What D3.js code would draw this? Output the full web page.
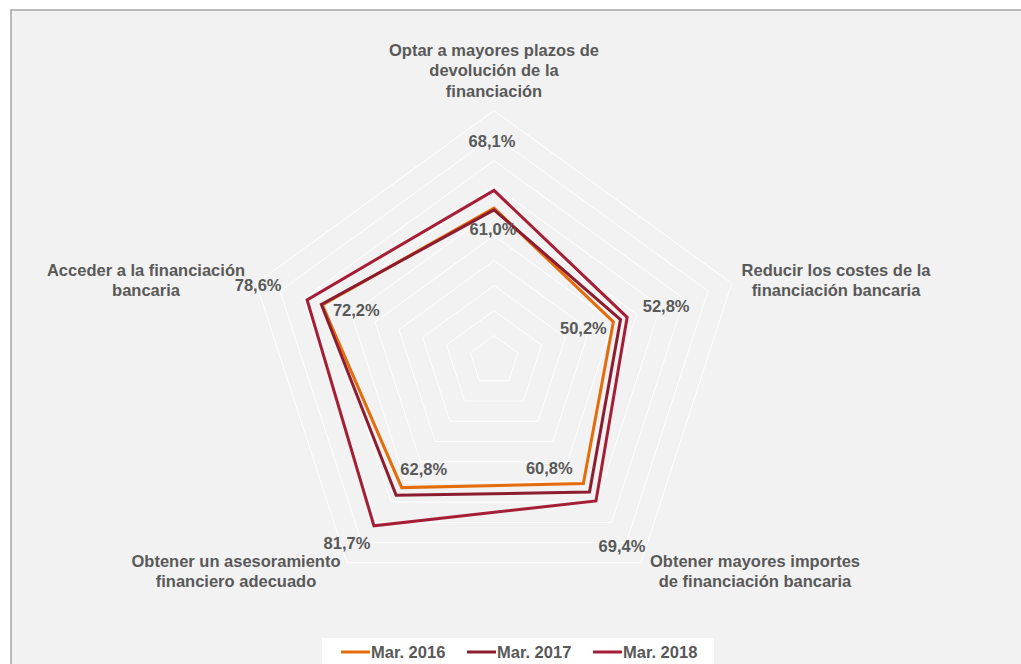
<!DOCTYPE html>
<html>
<head>
<meta charset="utf-8">
<script src="https://cdn.jsdelivr.net/npm/d3@7"></script>
<style>
  html, body { margin: 0; padding: 0; background: #fff; }
  svg { display: block; font-family: "Liberation Sans", Arial, sans-serif; }
</style>
</head>
<body>
<script>
// axes, clockwise from the top
const categories = [
  ["Optar a mayores plazos de", "devolución de la", "financiación"],
  ["Reducir los costes de la", "financiación bancaria"],
  ["Obtener mayores importes", "de financiación bancaria"],
  ["Obtener un asesoramiento", "financiero adecuado"],
  ["Acceder a la financiación", "bancaria"]
];
const seriesNames = ["Mar. 2016", "Mar. 2017", "Mar. 2018"];
const values2016 = [61.0, 50.2, 60.8, 62.8, 72.2];
const values2017 = [60.3, 53.2, 65.0, 66.6, 72.6];
const values2018 = [68.1, 56.0, 69.4, 81.7, 78.6];
const ringTicks = [10, 20, 30, 40, 50, 60, 70, 80, 90, 100];
// data labels: [series index, axis index, text]
const dataLabels = [
  [2, 0, "68,1%"], [0, 0, "61,0%"],
  [2, 1, "52,8%"], [0, 1, "50,2%"],
  [2, 2, "69,4%"], [0, 2, "60,8%"],
  [2, 3, "81,7%"], [0, 3, "62,8%"],
  [2, 4, "78,6%"], [0, 4, "72,2%"]
];

const series = [values2016, values2017, values2018];
const colors = ["#e46c0a", "#8c1c2f", "#a61e36"];
const textColor = "#595959";
const fontSize = 16.5;

const width = 1021, height = 664;
const cx = 494, cy = 360.6, R = 250;

// label offsets from their point, px (same order as dataLabels)
const labelOffsets = [
  [-2, -49], [-1, 21],
  [39, -11], [-30, 6],
  [26, 45], [-34, -15],
  [-27, 17], [22, -18],
  [-49, -15], [34, 5]
];
// category label anchors (centre x, first line y)
const catPos = [[494, 50], [836, 270], [755, 561], [236, 561], [146, 270]];

const r = d3.scaleLinear().domain([0, 100]).range([0, R]);
const angle = i => i * 2 * Math.PI / categories.length;
const pt = (i, v) => [cx + r(v) * Math.sin(angle(i)), cy - r(v) * Math.cos(angle(i))];

const svg = d3.select("body").append("svg")
  .attr("width", width)
  .attr("height", height);

// chart area
svg.append("rect")
  .attr("x", 11).attr("y", 10)
  .attr("width", width).attr("height", height)
  .attr("fill", "#f2f2f2")
  .attr("stroke", "#a6a6a6")
  .attr("stroke-width", 1.5);

// grid rings
const ring = d3.line().curve(d3.curveLinearClosed);
svg.append("g")
  .selectAll("path")
  .data(ringTicks)
  .join("path")
  .attr("d", t => ring(categories.map((c, i) => pt(i, t))))
  .attr("fill", "none")
  .attr("stroke", "#ffffff")
  .attr("stroke-width", 1);

// series
svg.append("g")
  .selectAll("path")
  .data(series)
  .join("path")
  .attr("d", s => ring(s.map((v, i) => pt(i, v))))
  .attr("fill", "none")
  .attr("stroke", (s, k) => colors[k])
  .attr("stroke-width", 3)
  .attr("stroke-linejoin", "miter");

// data labels
svg.append("g")
  .selectAll("text")
  .data(dataLabels)
  .join("text")
  .attr("x", (d, k) => pt(d[1], series[d[0]][d[1]])[0] + labelOffsets[k][0])
  .attr("y", (d, k) => pt(d[1], series[d[0]][d[1]])[1] + labelOffsets[k][1])
  .attr("text-anchor", "middle")
  .attr("dy", "0.35em")
  .attr("font-size", fontSize)
  .attr("font-weight", "bold")
  .attr("fill", textColor)
  .text(d => d[2]);

// category labels
const cat = svg.append("g")
  .selectAll("text")
  .data(categories)
  .join("text")
  .attr("text-anchor", "middle")
  .attr("font-size", fontSize)
  .attr("font-weight", "bold")
  .attr("fill", textColor);
cat.selectAll("tspan")
  .data((d, i) => d.map(line => ({ line, i })))
  .join("tspan")
  .attr("x", d => catPos[d.i][0])
  .attr("y", (d, j) => catPos[d.i][1] + j * 20.5)
  .attr("dy", "0.35em")
  .text(d => d.line);

// legend
const lg = svg.append("g");
lg.append("rect")
  .attr("x", 322).attr("y", 638)
  .attr("width", 392).attr("height", 40)
  .attr("fill", "#ffffff");
const item = lg.selectAll("g")
  .data(seriesNames)
  .join("g")
  .attr("transform", (d, k) => `translate(${341 + k * 126},652)`);
item.append("line")
  .attr("x1", 0).attr("x2", 29)
  .attr("stroke", (d, k) => colors[k])
  .attr("stroke-width", 3);
item.append("text")
  .attr("x", 30)
  .attr("dy", "0.35em")
  .attr("font-size", fontSize)
  .attr("font-weight", "bold")
  .attr("fill", textColor)
  .text(d => d);
</script>
</body>
</html>
